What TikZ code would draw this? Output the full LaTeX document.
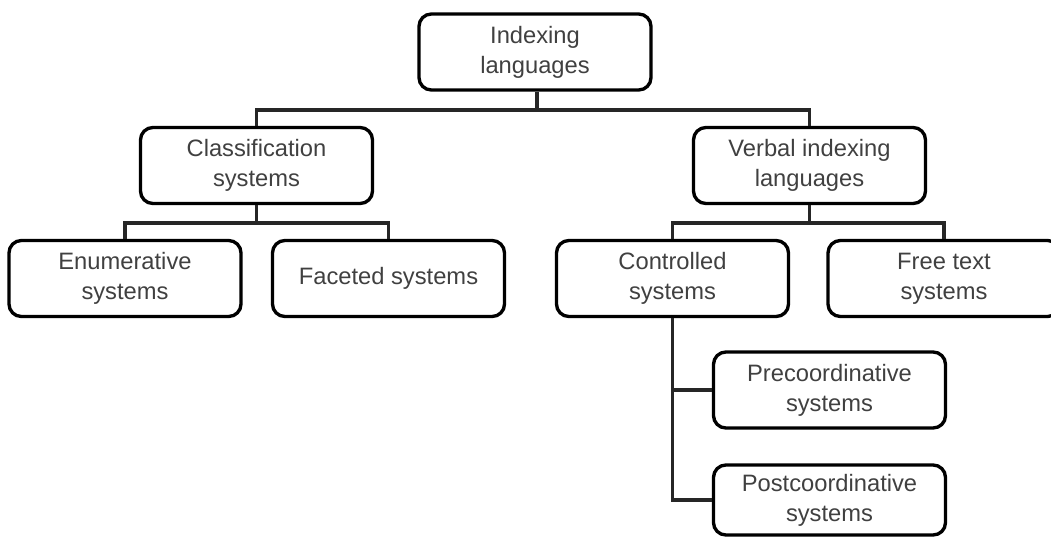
\documentclass[tikz,border=0pt]{standalone}
\usepackage{fontspec}
\setmainfont{Liberation Sans}
\begin{document}
\begin{tikzpicture}[x=0.02cm,y=-0.02cm,
	box/.style={draw,line width=1.9pt,rounded corners=7pt,align=center,
		minimum width=4.64cm,minimum height=1.52cm,inner sep=2pt,
		font=\fontsize{13.5}{17}\selectfont,text=black!75},
	link/.style={line width=1.8pt,black!85}]
\useasboundingbox (0,0) rectangle (1051,538);
%%% Top level
\node[box] (idx) at (535,52) {Indexing\\languages};
%%% Second level
\node[box] (cls) at (256.5,165.5) {Classification\\systems};
\node[box] (vrb) at (809.5,165.5) {Verbal indexing\\languages};
%%% Third level
\node[box] (enu) at (125,278.5) {Enumerative\\systems};
\node[box] (fac) at (388.5,278.5) {Faceted systems};
\node[box] (con) at (672.5,278.5) {Controlled\\systems};
\node[box] (fre) at (944,278.5) {Free text\\systems};
%%% Below controlled systems
\node[box] (pre) at (829.5,390) {Precoordinative\\systems};
\node[box,minimum height=1.4cm] (pst) at (829.5,500) {Postcoordinative\\systems};
%%% Junctions
\coordinate (j1) at (537,110);
\coordinate (j2) at (256.5,223);
\coordinate (j3) at (809.5,223);
%%% Connectors
\draw[link] (idx.south -| j1) -- (j1);
\draw[link] (cls.north) |- (j1) -| (vrb.north);
\draw[link] (cls) -- (j2);
\draw[link] (enu.north) |- (j2) -| (fac.north);
\draw[link] (vrb) -- (j3);
\draw[link] (con.north) |- (j3) -| (fre.north);
\draw[link] (con.south) |- (pre.west);
\draw[link] (con.south) |- (pst.west);
\end{tikzpicture}
\end{document}
